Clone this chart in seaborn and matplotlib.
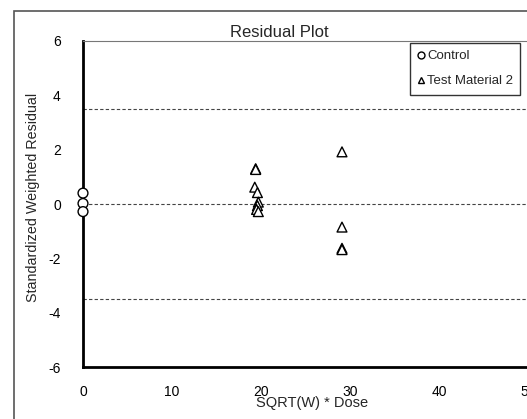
import matplotlib
matplotlib.use("Agg")
import matplotlib.pyplot as plt
import seaborn as sns
import pandas as pd
from matplotlib.patches import Rectangle
from matplotlib.lines import Line2D

control_x = [0, 0, 0]
control_y = [0.40, 0.02, -0.28]
test_x = [19.4, 19.4, 19.3, 19.6, 19.7, 19.6, 19.5, 19.7, 29.1, 29.1, 29.1, 29.1]
test_y = [1.30, 1.27, 0.62, 0.42, 0.07, -0.06, -0.20, -0.28, 1.92, -0.85, -1.63, -1.68]
groups = ["Control", "Test Material 2"]
ref_lines = [3.5, 0.0, -3.5]
x_ticks = [0, 10, 20, 30, 40, 50]
y_ticks = [-6, -4, -2, 0, 2, 4, 6]

df = pd.DataFrame({
    "x": control_x + test_x,
    "y": control_y + test_y,
    "group": [groups[0]] * len(control_x) + [groups[1]] * len(test_x),
})

sns.set_style("white")
plt.rcParams["font.family"] = ["Liberation Sans", "DejaVu Sans"]
plt.rcParams["axes.unicode_minus"] = False

fig = plt.figure(figsize=(5.27, 4.19), dpi=100)
fig.patches.append(Rectangle((14 / 527, -0.05), 1.2, (419 - 11) / 419 + 0.05,
                             transform=fig.transFigure, fill=False,
                             edgecolor="#555555", linewidth=1.2, zorder=0))
ax = fig.add_axes([83 / 527, (419 - 367) / 419, (528 - 83) / 527, (367 - 41) / 419])

for v in ref_lines:
    ax.axhline(v, color="#444444", linestyle=(0, (3, 2)), linewidth=0.8, zorder=1)

sns.scatterplot(data=df, x="x", y="y", style="group", markers={"Control": "o", "Test Material 2": "^"},
                color="white", edgecolor="black", linewidth=1.0, s=50, ax=ax, zorder=3,
                legend=False, clip_on=False)

ax.set_xlim(0, 50)
ax.set_ylim(-6, 6)
ax.set_xticks(x_ticks)
ax.set_yticks(y_ticks)
ax.tick_params(axis="x", direction="in", length=4, width=1.5, labelsize=10, pad=13, colors="black")
ax.tick_params(axis="y", direction="out", length=4, width=1.5, labelsize=10, pad=12, colors="black")
ax.spines["left"].set_linewidth(2)
ax.spines["left"].set_color("black")
ax.spines["bottom"].set_linewidth(2)
ax.spines["bottom"].set_color("black")
ax.spines["top"].set_linewidth(0.8)
ax.spines["top"].set_color("#777777")
ax.spines["right"].set_visible(False)

ax.set_title("Residual Plot", fontsize=12, pad=3, x=(279 - 83) / 445)
ax.set_xlabel("SQRT(W) * Dose", fontsize=10.5)
ax.xaxis.set_label_coords((312 - 83) / 445, -(396 - 367) / 326)
ax.set_ylabel("Standardized Weighted Residual", fontsize=10.3)
ax.yaxis.set_label_coords(-(83 - 40) / 445, (367 - 197) / 326)

handles = [Line2D([], [], marker="o", linestyle="", markerfacecolor="white", markeredgecolor="black", markersize=5),
           Line2D([], [], marker="^", linestyle="", markerfacecolor="white", markeredgecolor="black", markersize=5)]
leg = ax.legend(handles, groups, loc="upper left", bbox_to_anchor=((410 - 83) / 445, (367 - 43) / 326),
                fontsize=9.5, frameon=True, fancybox=False, edgecolor="black", handlelength=0.5,
                handletextpad=0.25, borderpad=0.55, labelspacing=0.95, borderaxespad=0)
leg.get_frame().set_linewidth(1.0)

fig.savefig("out.png", dpi=100)
